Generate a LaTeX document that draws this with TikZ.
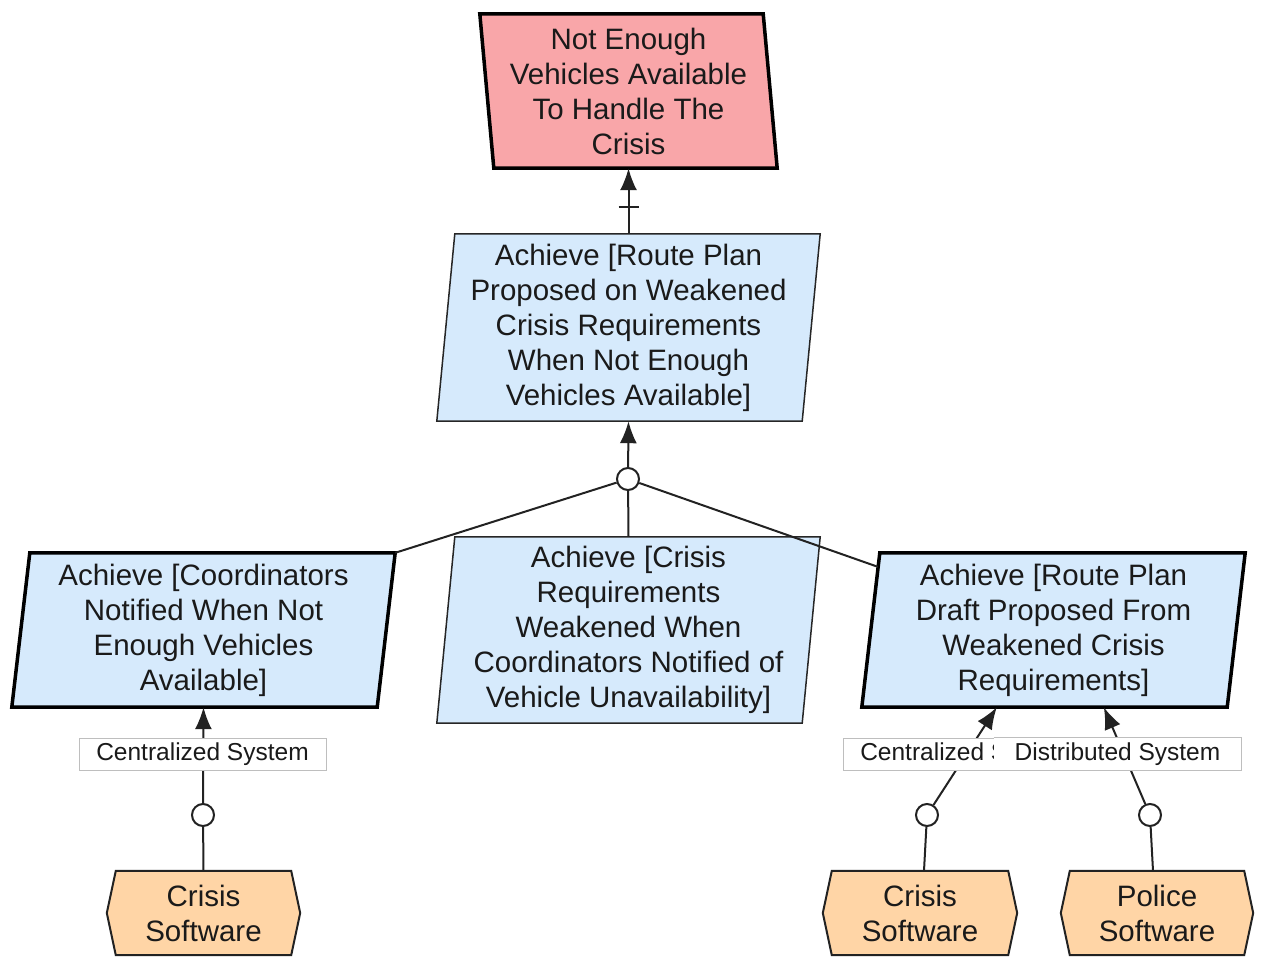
\documentclass[tikz,border=0pt]{standalone}
\usepackage{fontspec}
\setmainfont{Liberation Sans}
\usetikzlibrary{arrows.meta,backgrounds,calc}

\definecolor{goalred}{RGB}{249,166,169}
\definecolor{goalblue}{RGB}{214,234,252}
\definecolor{agentorange}{RGB}{255,213,166}
\definecolor{ink}{RGB}{26,26,26}
\definecolor{wire}{RGB}{34,34,34}
\definecolor{labelgray}{RGB}{190,190,190}

\tikzset{
  goaltext/.style={inner sep=0pt, align=center, text=ink, font=\fontsize{29.5}{35}\selectfont},
  thickborder/.style={draw=black, line width=3.5pt, line join=miter},
  thinborder/.style={draw=black!85, line width=1.5pt},
  orcircle/.style={circle, draw=wire, line width=2pt, fill=white, minimum size=22pt, inner sep=0pt},
  wireline/.style={draw=wire, line width=2pt},
  arrowline/.style={wireline, -{Latex[length=22pt,width=17pt]}},
  syslabel/.style={draw=labelgray, line width=1pt, fill=white, text=ink,
    font=\fontsize{24.5}{29}\selectfont, minimum height=32pt, minimum width=247pt, inner sep=0pt},
}

% parallelogram whose top edge leans right
\newcommand{\slantR}[3]{\path[#3] ([xshift=#2]#1.north west) -- (#1.north east)
  -- ([xshift=-#2]#1.south east) -- (#1.south west) -- cycle;}
% parallelogram whose top edge leans left
\newcommand{\slantL}[3]{\path[#3] (#1.north west) -- ([xshift=-#2]#1.north east)
  -- (#1.south east) -- ([xshift=#2]#1.south west) -- cycle;}
% agent hexagon with pointed sides
\newcommand{\hexagent}[1]{\path[fill=agentorange, draw=wire, line width=2pt]
  ([xshift=9pt]#1.north west) -- ([xshift=-9pt]#1.north east) -- (#1.east)
  -- ([xshift=-9pt]#1.south east) -- ([xshift=9pt]#1.south west) -- (#1.west) -- cycle;}

\begin{document}
\begin{tikzpicture}[x=1pt,y=-1pt]
\path[use as bounding box] (0,0) rectangle (1261,956);

% goals and obstacle
\node[goaltext, minimum width=297pt, minimum height=154pt] (obstacle) at (628.5,91)
  {Not Enough\\Vehicles Available\\To Handle The\\Crisis};
\node[goaltext, minimum width=383pt, minimum height=187pt] (routeplan) at (628.5,327.5)
  {Achieve [Route Plan\\Proposed on Weakened\\Crisis Requirements\\When Not Enough\\Vehicles Available]};
\node[orcircle] (refine) at (628,479) {};
\node[goaltext, minimum width=383pt, minimum height=154pt] (notify) at (203.5,630)
  {Achieve [Coordinators\\Notified When Not\\Enough Vehicles\\Available]};
\node[goaltext, minimum width=383pt, minimum height=186pt] (weaken) at (628.5,630)
  {Achieve [Crisis\\Requirements\\Weakened When\\Coordinators Notified of\\Vehicle Unavailability]};
\node[goaltext, minimum width=383pt, minimum height=154pt] (draft) at (1053.5,630)
  {Achieve [Route Plan\\Draft Proposed From\\Weakened Crisis\\Requirements]};

% responsibility links
\node[orcircle] (assignL) at (203,815) {};
\node[orcircle] (assignC) at (927,815) {};
\node[orcircle] (assignP) at (1150,815) {};

% agents
\node[goaltext, minimum width=193pt, minimum height=84pt] (crisisL) at (203.5,913) {Crisis\\Software};
\node[goaltext, minimum width=194pt, minimum height=84pt] (crisisR) at (920,913) {Crisis\\Software};
\node[goaltext, minimum width=192pt, minimum height=84pt] (police) at (1157,913) {Police\\Software};

\begin{pgfonlayer}{background}
  \slantL{obstacle}{14pt}{fill=goalred, thickborder}
  \slantR{routeplan}{18pt}{fill=goalblue, thinborder}
  \slantR{notify}{18pt}{fill=goalblue, thickborder}
  \slantR{weaken}{18pt}{fill=goalblue, thinborder}
  \slantR{draft}{18pt}{fill=goalblue, thickborder}
  \hexagent{crisisL}
  \hexagent{crisisR}
  \hexagent{police}
\end{pgfonlayer}

% obstruction link with its tick
\draw[arrowline] (routeplan.north) -- (obstacle.south);
\draw[wireline] ($(routeplan.north)!0.41!(obstacle.south)$) ++(-10pt,0) -- ++(20pt,0);

% AND-refinement
\draw[arrowline] (refine) -- (routeplan.south);
\draw[wireline] (refine) -- (notify.north east);
\draw[wireline] (refine) -- (weaken.north);
\draw[wireline] (refine) -- ([xshift=16pt,yshift=-14pt]draft.north west);

% assignments
\draw[arrowline] (assignL) -- (notify.south);
\draw[wireline] (assignL) -- (crisisL.north);
\draw[arrowline] (assignC) -- ([xshift=135pt]draft.south west);
\draw[wireline] (assignC) -- ([xshift=4pt]crisisR.north);
\draw[arrowline] (assignP) -- ([xshift=242pt]draft.south west);
\draw[wireline] (assignP) -- ([xshift=-4pt]police.north);

% system labels
\node[syslabel] (centralL) at (202.5,754) {Centralized System};
\node[syslabel] (centralR) at (966.5,754) {Centralized System};
\node[syslabel, draw=none] (distrib) at (1117.5,754) {Distributed System};
\draw[labelgray, line width=1pt] (distrib.north west) -- (distrib.north east)
  -- (distrib.south east) -- (distrib.south west);
\end{tikzpicture}
\end{document}
